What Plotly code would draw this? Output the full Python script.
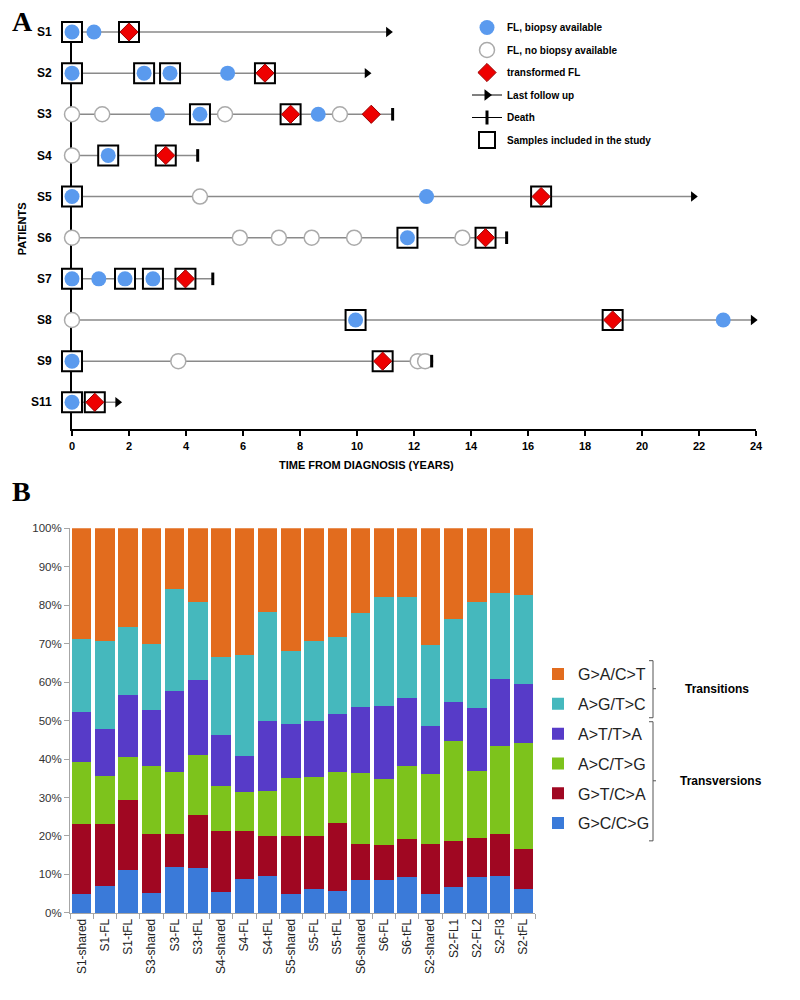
import plotly.graph_objects as go

W, H = 800, 1000
# the photographed page maps paper pixels with a slight scale/offset; compensate so layout lands on target pixels
SX, OX, SY, OY = 0.9875, 3.0, 0.987, 5.0
def fx(px): return ((px - OX) / SX) / W
def fy(py): return 1 - ((py - OY) / SY) / H

# ---------------- Panel A data ----------------
patients = ["S1", "S2", "S3", "S4", "S5", "S6", "S7", "S8", "S9", "S11"]
# (years from diagnosis, kind, included in study); kind: FL = biopsy, noFL = no biopsy, tFL = transformed
S1_events = [(0, "FL", True), (0.77, "FL", False), (2.0, "tFL", True)]
S2_events = [(0, "FL", True), (2.53, "FL", True), (3.44, "FL", True), (5.46, "FL", False), (6.77, "tFL", True)]
S3_events = [(0, "noFL", False), (1.06, "noFL", False), (3.0, "FL", False), (4.49, "FL", True), (5.37, "noFL", False),
             (7.67, "tFL", True), (8.64, "FL", False), (9.4, "noFL", False), (10.5, "tFL", False)]
S4_events = [(0, "noFL", False), (1.27, "FL", True), (3.29, "tFL", True)]
S5_events = [(0, "FL", True), (4.49, "noFL", False), (12.44, "FL", False), (16.46, "tFL", True)]
S6_events = [(0, "noFL", False), (5.89, "noFL", False), (7.26, "noFL", False), (8.41, "noFL", False), (9.9, "noFL", False),
             (11.77, "FL", True), (13.7, "noFL", False), (14.51, "tFL", True)]
S7_events = [(0, "FL", True), (0.94, "FL", False), (1.86, "FL", True), (2.84, "FL", True), (3.98, "tFL", True)]
S8_events = [(0, "noFL", False), (9.95, "FL", True), (18.97, "tFL", True), (22.85, "FL", False)]
S9_events = [(0, "FL", True), (3.73, "noFL", False), (10.9, "tFL", True), (12.13, "noFL", False), (12.39, "noFL", False)]
S11_events = [(0, "FL", True), (0.8, "tFL", True)]
events_by_patient = [S1_events, S2_events, S3_events, S4_events, S5_events,
                     S6_events, S7_events, S8_events, S9_events, S11_events]
follow_up_years = [11.1, 10.35, 11.25, 4.41, 21.8, 15.25, 4.94, 23.9, 12.62, 1.6]
follow_up_status = ["alive", "alive", "dead", "dead", "alive", "dead", "dead", "alive", "dead", "alive"]
x_ticks_A = list(range(0, 25, 2))

# ---------------- Panel B data ----------------
samples = ["S1-shared", "S1-FL", "S1-tFL", "S3-shared", "S3-FL", "S3-tFL", "S4-shared", "S4-FL", "S4-tFL",
           "S5-shared", "S5-FL", "S5-tFL", "S6-shared", "S6-FL", "S6-tFL", "S2-shared", "S2-FL1", "S2-FL2",
           "S2-Fl3", "S2-tFL"]
gc_cg = [5.0, 7.0, 11.2, 5.3, 12.0, 11.7, 5.5, 8.7, 9.6, 5.0, 6.1, 5.6, 8.6, 8.6, 9.4, 4.9, 6.7, 9.3, 9.5, 6.3]
gt_ca = [18.0, 16.0, 18.2, 15.2, 8.5, 13.7, 15.9, 12.5, 10.3, 15.1, 14.0, 17.8, 9.3, 9.0, 9.7, 13.1, 11.9, 10.2, 11.1, 10.3]
ac_tg = [16.2, 12.6, 11.2, 17.7, 16.1, 15.7, 11.6, 10.3, 11.8, 15.0, 15.2, 13.3, 18.4, 17.3, 19.2, 18.1, 26.2, 17.3, 22.9, 27.5]
at_ta = [12.9, 12.2, 16.0, 14.5, 21.2, 19.4, 13.2, 9.3, 18.1, 14.0, 14.6, 15.1, 17.2, 19.0, 17.6, 12.6, 10.0, 16.5, 17.4, 15.5]
ag_tc = [19.1, 23.0, 17.7, 17.2, 26.3, 20.2, 20.2, 26.2, 28.4, 18.9, 20.9, 19.8, 24.4, 28.1, 26.1, 21.0, 21.7, 27.6, 22.3, 23.0]
ga_ct = [28.8, 29.2, 25.7, 30.1, 15.9, 19.3, 33.6, 33.0, 21.8, 32.0, 29.2, 28.4, 22.1, 18.0, 18.0, 30.3, 23.5, 19.1, 16.8, 17.4]
series_B = [("G>C/C>G", gc_cg, "#3A7AD9"), ("G>T/C>A", gt_ca, "#A00722"), ("A>C/T>G", ac_tg, "#7DC31C"),
            ("A>T/T>A", at_ta, "#573BC8"), ("A>G/T>C", ag_tc, "#45B8BD"), ("G>A/C>T", ga_ct, "#E26C1E")]
y_ticks_B = list(range(0, 101, 10))
y_ticktext_B = [f"{v}%" for v in y_ticks_B]

BOLD = dict(family="Liberation Sans, Arial", weight="bold", color="black")
fig = go.Figure()

# timelines
lx, ly = [], []
for i, end in enumerate(follow_up_years):
    lx += [0, end, None]
    ly += [i, i, None]
fig.add_trace(go.Scatter(x=lx, y=ly, mode="lines", line=dict(color="#8a8a8a", width=1.5),
                         showlegend=False, hoverinfo="skip", cliponaxis=False))

def collect(kind=None, boxed=None):
    xs, ys = [], []
    for i, evs in enumerate(events_by_patient):
        for t, k, b in evs:
            if (kind is None or k == kind) and (boxed is None or b == boxed):
                xs.append(t); ys.append(i)
    return xs, ys

bx, by = collect(boxed=True)
fig.add_trace(go.Scatter(x=bx, y=by, mode="markers", name="Samples included in the study",
                         marker=dict(symbol="square", size=20, color="white", line=dict(color="black", width=2)),
                         cliponaxis=False, legend="legend", legendgroup="g6", legendrank=6))
x1, y1 = collect("FL")
fig.add_trace(go.Scatter(x=x1, y=y1, mode="markers", name="FL, biopsy available",
                         marker=dict(symbol="circle", size=15, color="#5A9AEE"),
                         cliponaxis=False, legend="legend", legendgroup="g1", legendrank=1))
x2, y2 = collect("noFL")
fig.add_trace(go.Scatter(x=x2, y=y2, mode="markers", name="FL, no biopsy available",
                         marker=dict(symbol="circle", size=15, color="white", line=dict(color="#aaaaaa", width=1.5)),
                         cliponaxis=False, legend="legend", legendgroup="g2", legendrank=2))
x3, y3 = collect("tFL")
fig.add_trace(go.Scatter(x=x3, y=y3, mode="markers", name="transformed FL",
                         marker=dict(symbol="diamond", size=14, color="#EE0000", line=dict(color="#990000", width=1)),
                         cliponaxis=False, legend="legend", legendgroup="g3", legendrank=3))

ax = [e for e, s in zip(follow_up_years, follow_up_status) if s == "alive"]
ay = [i for i, s in enumerate(follow_up_status) if s == "alive"]
fig.add_trace(go.Scatter(x=ax, y=ay, mode="markers", showlegend=False,
                         marker=dict(symbol="triangle-right", size=9, color="black"), cliponaxis=False))
dx = [e for e, s in zip(follow_up_years, follow_up_status) if s == "dead"]
dy = [i for i, s in enumerate(follow_up_status) if s == "dead"]
fig.add_trace(go.Scatter(x=dx, y=dy, mode="markers", showlegend=False,
                         marker=dict(symbol="line-ns-open", size=9, color="black", line=dict(color="black", width=3)),
                         cliponaxis=False))
fig.add_trace(go.Scatter(x=[None], y=[None], mode="lines+markers", name="Last follow up",
                         line=dict(color="black", width=1), marker=dict(symbol="triangle-right", size=10, color="black"),
                         legend="legend", legendgroup="g4", legendrank=4))
fig.add_trace(go.Scatter(x=[None], y=[None], mode="lines+markers", name="Death",
                         line=dict(color="black", width=1),
                         marker=dict(symbol="line-ns-open", size=10, color="black", line=dict(color="black", width=3)),
                         legend="legend", legendgroup="g5", legendrank=5))

# Panel B bars
for rank, (name, vals, col) in enumerate(series_B):
    fig.add_trace(go.Bar(x=samples, y=vals, name=name, marker=dict(color=col, line=dict(width=0)),
                         xaxis="x2", yaxis="y2", legend="legend2", legendgroup=name,
                         legendrank=len(series_B) - rank))

shapes = []
def bracket(top, bot, mid, x=653):
    p = (f"M {fx(x-4)},{fy(top)} L {fx(x)},{fy(top)} L {fx(x)},{fy(bot)} L {fx(x-4)},{fy(bot)} "
         f"M {fx(x)},{fy(mid)} L {fx(x+3)},{fy(mid)}")
    return dict(type="path", path=p, xref="paper", yref="paper", line=dict(color="#555", width=1))
shapes.append(bracket(659, 716, 687))
shapes.append(bracket(720, 839, 779))

annotations = [
    dict(text="A", x=fx(10), y=fy(20), xref="paper", yref="paper", xanchor="left", yanchor="middle", showarrow=False,
         font=dict(family="Liberation Serif, Times New Roman", size=28, weight="bold", color="black")),
    dict(text="B", x=fx(10), y=fy(490), xref="paper", yref="paper", xanchor="left", yanchor="middle", showarrow=False,
         font=dict(family="Liberation Serif, Times New Roman", size=28, weight="bold", color="black")),
    dict(text="TIME FROM DIAGNOSIS (YEARS)", x=fx(367), y=fy(464), xref="paper", yref="paper", showarrow=False,
         xanchor="center", yanchor="middle", font=dict(BOLD, size=11)),
    dict(text="PATIENTS", x=fx(22), y=fy(228), xref="paper", yref="paper", showarrow=False, textangle=-90,
         xanchor="center", yanchor="middle", font=dict(BOLD, size=11)),
    dict(text="Transitions", x=fx(717), y=fy(687), xref="paper", yref="paper", showarrow=False,
         xanchor="center", yanchor="middle", font=dict(BOLD, size=12)),
    dict(text="Transversions", x=fx(721), y=fy(779), xref="paper", yref="paper", showarrow=False,
         xanchor="center", yanchor="middle", font=dict(BOLD, size=12)),
]

fig.update_layout(
    width=W, height=H, margin=dict(l=0, r=0, t=0, b=0),
    paper_bgcolor="white", plot_bgcolor="white",
    barmode="stack", bargap=0.155,
    xaxis=dict(domain=[fx(72), fx(756)], range=[0, 24], anchor="y", tickvals=x_ticks_A,
               showline=True, linecolor="black", linewidth=2, ticks="outside", ticklen=5, tickwidth=2,
               tickcolor="black", tickfont=dict(BOLD, size=11), showgrid=False, zeroline=False,
               layer="below traces"),
    yaxis=dict(domain=[fy(428), fy(20.7)], range=[9.66, -0.25], anchor="x",
               tickvals=list(range(len(patients))), ticktext=patients, ticks="", ticklabelstandoff=16,
               showline=True, linecolor="black", linewidth=2, tickfont=dict(BOLD, size=12),
               showgrid=False, zeroline=False, layer="below traces"),
    xaxis2=dict(domain=[fx(70), fx(535)], anchor="y2", type="category", tickangle=-90,
                showline=True, linecolor="#a6a6a6", linewidth=1, ticks="outside", ticklen=5, tickcolor="#a6a6a6",
                tickson="boundaries", tickfont=dict(family="Liberation Sans, Arial", size=12, color="#222"),
                showgrid=False, zeroline=False),
    yaxis2=dict(domain=[fy(911), fy(526.7)], range=[0, 100], anchor="x2",
                tickvals=y_ticks_B, ticktext=y_ticktext_B,
                showline=True, linecolor="#a6a6a6", linewidth=1, ticks="outside", ticklen=5, tickcolor="#a6a6a6",
                tickfont=dict(family="Liberation Sans, Arial", size=11.5, color="#333"),
                showgrid=False, zeroline=False),
    legend=dict(x=fx(467), y=fy(12), xanchor="left", yanchor="top", traceorder="grouped", tracegroupgap=3.5,
                font=dict(BOLD, size=10), bgcolor="rgba(0,0,0,0)"),
    legend2=dict(x=fx(538), y=fy(655.5), xanchor="left", yanchor="top", traceorder="grouped",
                 tracegroupgap=6, font=dict(family="Liberation Sans, Arial", size=16, color="#222"),
                 bgcolor="rgba(0,0,0,0)"),
    shapes=shapes, annotations=annotations,
)

css = ("margin:0;padding:0;overflow:hidden;width:800px;height:1000px;")
fig.write_html("out.html", config={"displayModeBar": False},
               post_script=("document.documentElement.style.cssText='" + css + "';"
                            "document.body.style.cssText='" + css + "';"))
